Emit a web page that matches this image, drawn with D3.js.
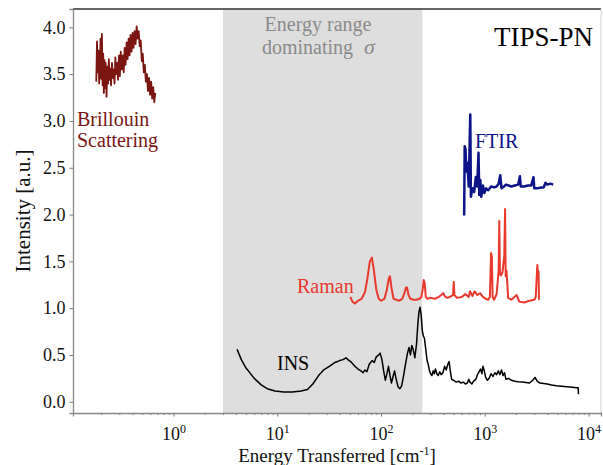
<!DOCTYPE html>
<meta charset="utf-8">
<head>
<style>
  body { margin: 0; background: #fff; }
  svg text { font-family: "Liberation Serif", "Times New Roman", "DejaVu Serif", serif; }
</style>
</head>
<body>
<script src="https://cdn.jsdelivr.net/npm/d3@7/dist/d3.min.js"></script>
<script>
// ---- data ----
var insX = [4.1,4.5,5,6,7,8,9.5,11.5,14,17,19.5,22,25,28,32,36,40,43,46,48,52,56,60,64,67,70,73,77,82,86,90,95,98,102,106,110,114,118,122,126,130,135,140,146,152,158,165,172,180,186,192,198,205,212,220,226,232,238,244,250,256,262,270,278,285,292,300,309,318,326,335,345,356,368,380,395,410,425,440,453,465,480,500,530,560,590,620,650,680,700,720,750,780,820,850,880,910,940,960,990,1020,1060,1100,1150,1200,1250,1300,1350,1400,1450,1500,1550,1600,1700,1800,1950,2100,2300,2500,2700,2900,3050,3200,3400,3700,4000,4400,4900,5500,6200,7000,7600,7950,8000];
var insY = [0.56,0.45,0.36,0.25,0.18,0.14,0.115,0.105,0.105,0.115,0.13,0.19,0.28,0.34,0.38,0.42,0.44,0.45,0.47,0.45,0.42,0.38,0.35,0.33,0.31,0.34,0.32,0.40,0.44,0.42,0.48,0.50,0.52,0.45,0.33,0.23,0.30,0.38,0.28,0.20,0.26,0.33,0.24,0.16,0.14,0.17,0.28,0.40,0.52,0.58,0.50,0.60,0.55,0.47,0.62,0.82,0.96,1.01,0.92,0.76,0.70,0.68,0.56,0.44,0.40,0.34,0.30,0.28,0.33,0.30,0.35,0.30,0.28,0.32,0.29,0.31,0.38,0.34,0.40,0.43,0.33,0.24,0.23,0.21,0.22,0.20,0.21,0.19,0.20,0.24,0.21,0.19,0.22,0.24,0.29,0.32,0.35,0.30,0.38,0.33,0.26,0.23,0.25,0.30,0.27,0.31,0.29,0.33,0.29,0.34,0.28,0.31,0.24,0.25,0.23,0.22,0.215,0.21,0.205,0.20,0.23,0.26,0.22,0.20,0.195,0.19,0.18,0.17,0.165,0.16,0.155,0.15,0.15,0.08];

var ramanX = [50.6,53,56,60,65,70,74,78,81.6,85,90,95,100,108,114,119,122,126,132,140,150,160,168,174,178,184,192,205,220,235,245,252,258,264,270,280,300,330,360,380,398,410,430,460,495,502,510,540,600,650,700,720,760,800,850,900,960,1020,1080,1120,1150,1170,1190,1230,1300,1360,1380,1400,1430,1480,1540,1570,1590,1620,1680,1800,2030,2150,2400,2700,3000,3100,3210,3260,3300,3330];
var ramanY = [1.12,1.07,1.05,1.08,1.10,1.17,1.32,1.50,1.54,1.42,1.20,1.10,1.08,1.10,1.20,1.32,1.34,1.22,1.10,1.09,1.08,1.10,1.16,1.22,1.22,1.14,1.10,1.09,1.09,1.10,1.12,1.20,1.30,1.26,1.12,1.10,1.11,1.10,1.12,1.14,1.16,1.13,1.11,1.12,1.14,1.28,1.14,1.11,1.12,1.15,1.12,1.18,1.13,1.18,1.14,1.16,1.12,1.10,1.09,1.12,1.59,1.55,1.12,1.09,1.15,1.40,1.93,1.38,1.35,1.38,1.55,2.06,1.34,1.40,1.11,1.09,1.14,1.07,1.06,1.08,1.09,1.12,1.46,1.38,1.39,1.09];

var ftirX = [633,640,652,665,680,700,725,735,760,790,820,845,870,885,905,925,960,990,1030,1080,1150,1230,1300,1360,1410,1450,1530,1600,1700,1800,1950,2100,2180,2220,2400,2600,2800,2950,3000,3200,3500,3700,3850,4000,4300,4570];
var ftirY = [1.99,2.73,2.70,2.46,2.55,2.30,3.07,2.19,2.28,2.24,2.40,2.30,2.66,2.21,2.37,2.19,2.31,2.23,2.28,2.26,2.30,2.29,2.30,2.33,2.42,2.28,2.30,2.32,2.31,2.30,2.31,2.32,2.41,2.30,2.30,2.31,2.31,2.40,2.28,2.28,2.29,2.29,2.34,2.32,2.33,2.32];

var brilX = [0.180,0.183,0.186,0.189,0.192,0.195,0.198,0.201,0.204,0.207,0.210,0.213,0.216,0.219,0.222,0.226,0.230,0.234,0.238,0.242,0.246,0.250,0.255,0.260,0.265,0.270,0.275,0.280,0.286,0.292,0.298,0.304,0.310,0.317,0.324,0.331,0.338,0.345,0.353,0.361,0.369,0.377,0.385,0.394,0.403,0.412,0.421,0.431,0.441,0.451,0.461,0.472,0.483,0.494,0.505,0.517,0.529,0.541,0.554,0.567,0.580,0.594,0.608,0.622,0.637,0.652,0.667];
var brilY = [3.42,3.85,3.52,3.75,3.40,3.60,3.88,3.45,3.93,3.38,3.72,3.30,3.65,3.35,3.62,3.26,3.58,3.40,3.66,3.44,3.56,3.38,3.62,3.46,3.55,3.40,3.68,3.50,3.62,3.44,3.70,3.48,3.74,3.55,3.70,3.52,3.78,3.60,3.84,3.66,3.88,3.70,3.92,3.74,3.94,3.78,3.96,3.82,4.01,3.88,3.96,3.80,3.86,3.64,3.72,3.52,3.60,3.42,3.50,3.32,3.46,3.28,3.42,3.24,3.36,3.20,3.30];

var shadeRange = [3, 250];
var yTicks = [0, 0.5, 1.0, 1.5, 2.0, 2.5, 3.0, 3.5, 4.0];
var xTicks = [1, 10, 100, 1000, 10000];

// ---- layout ----
var margin = {top: 9, right: 2, bottom: 52, left: 73},
    width = 603 - margin.left - margin.right,
    height = 465 - margin.top - margin.bottom;

var x = d3.scaleLog().domain([0.1074, 13190]).range([0, width]);
var y = d3.scaleLinear().domain([-0.12, 4.196]).range([height, 0]);

var svg = d3.select("body").append("svg")
    .attr("width", 603)
    .attr("height", 465)
  .append("g")
    .attr("transform", "translate(" + margin.left + "," + margin.top + ")");

// shaded energy range
svg.append("rect")
    .attr("x", x(shadeRange[0]))
    .attr("y", 0)
    .attr("width", x(shadeRange[1]) - x(shadeRange[0]))
    .attr("height", height)
    .style("fill", "#dedede");

// spines top / right
svg.append("line").attr("x1", 0).attr("x2", width).attr("y1", 0).attr("y2", 0)
    .style("stroke", "#333").style("stroke-width", 1.3);
svg.append("line").attr("x1", width).attr("x2", width).attr("y1", 0).attr("y2", height)
    .style("stroke", "#d0d0d0").style("stroke-width", 1);

// minor x ticks
var minor = x.ticks().filter(function(d) { return xTicks.indexOf(d) < 0; });
svg.append("g")
    .attr("transform", "translate(0," + height + ")")
    .call(d3.axisBottom(x).tickValues(minor).tickSize(2).tickFormat(""))
    .call(function(g) {
      g.select(".domain").remove();
      g.selectAll("line").style("stroke", "#777");
    });

// major x axis
var xg = svg.append("g")
    .attr("transform", "translate(0," + height + ")")
    .call(d3.axisBottom(x).tickValues(xTicks).tickSize(3.5).tickPadding(5));
xg.select(".domain").style("stroke", "#888").style("stroke-width", 1.3);
xg.selectAll("line").style("stroke", "#777");
xg.selectAll("text").each(function(d) {
  var t = d3.select(this).text(null)
      .style("font-size", "18px").style("fill", "#111")
      .attr("dy", "1.05em");
  t.append("tspan").text("10");
  t.append("tspan").attr("dy", "-0.6em").style("font-size", "12px")
    .text(Math.round(Math.log10(d)));
});

// y axis
var yg = svg.append("g")
    .call(d3.axisLeft(y).tickValues(yTicks).tickSize(3.5).tickPadding(4)
      .tickFormat(d3.format(".1f")));
yg.select(".domain").style("stroke", "#888").style("stroke-width", 1.3);
yg.selectAll("line").style("stroke", "#777");
yg.selectAll("text").style("font-size", "18px").style("fill", "#111");

// axis titles
var xl = svg.append("text")
    .attr("x", width / 2)
    .attr("y", height + 49)
    .attr("text-anchor", "middle")
    .style("font-size", "19px")
    .style("fill", "#111");
xl.append("tspan").text("Energy Transferred [cm");
xl.append("tspan").attr("dy", "-7").style("font-size", "12px").text("-1");
xl.append("tspan").attr("dy", "7").text("]");

svg.append("text")
    .attr("transform", "rotate(-90)")
    .attr("x", -height / 2)
    .attr("y", -43)
    .attr("text-anchor", "middle")
    .style("font-size", "21px")
    .style("fill", "#111")
    .text("Intensity [a.u.]");

// series
function series(xs, ys, color, w) {
  var pts = xs.map(function(v, i) { return [v, ys[i]]; });
  svg.append("path")
      .datum(pts)
      .attr("d", d3.line().x(function(d) { return x(d[0]); }).y(function(d) { return y(d[1]); }))
      .style("fill", "none")
      .style("stroke", color)
      .style("stroke-width", w)
      .style("stroke-linejoin", "round");
}
series(insX, insY, "#000", 1.5);
series(ramanX, ramanY, "#e8392c", 2);
series(ftirX, ftirY, "#0d1488", 2.5);
series(brilX, brilY, "#7a1512", 1.8);

// labels
function label(txt, px, py, color, size, anchor) {
  return svg.append("text")
      .attr("x", px - margin.left).attr("y", py - margin.top)
      .attr("text-anchor", anchor || "start")
      .style("font-size", size + "px")
      .style("fill", color)
      .text(txt);
}
label("Energy range", 318, 31, "#8a8a8a", 20, "middle");
label("dominating", 262, 54, "#8a8a8a", 20);
label("\u03c3", 364, 54, "#8a8a8a", 22).style("font-style", "italic");
label("TIPS-PN", 593, 46, "#000", 27, "end");
label("Brillouin", 77, 126, "#7a1512", 20);
label("Scattering", 77, 147, "#7a1512", 20);
label("Raman", 297, 293, "#e8392c", 20);
label("FTIR", 475, 148, "#0d1488", 20);
label("INS", 277, 370, "#000", 20);
</script>
</body>
